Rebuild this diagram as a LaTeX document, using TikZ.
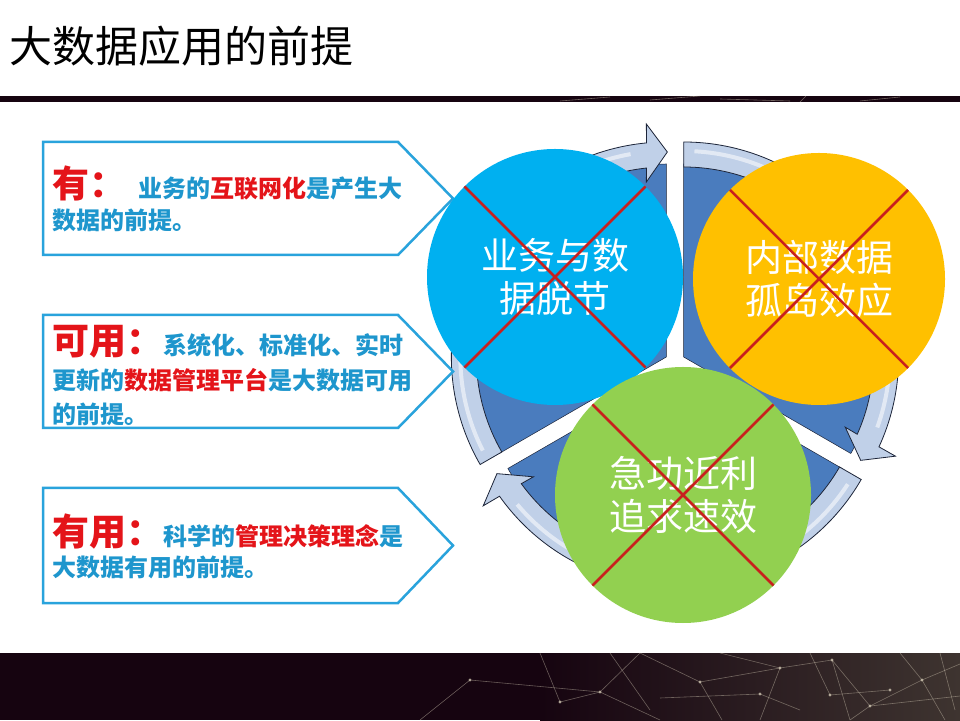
\documentclass[tikz,border=0pt]{standalone}
\usepackage{fontspec}
\newfontfamily\cjk{Noto Sans CJK SC}
\definecolor{boxblue}{RGB}{41,163,220}
\definecolor{txtblue}{RGB}{30,150,205}
\definecolor{txtred}{RGB}{228,20,25}
\definecolor{cblue}{RGB}{0,176,240}
\definecolor{corange}{RGB}{255,192,0}
\definecolor{cgreen}{RGB}{146,208,80}
\definecolor{xred}{RGB}{200,32,30}
\definecolor{wedgecol}{RGB}{74,124,190}
\definecolor{bandcol}{RGB}{192,208,232}
\definecolor{bandedge}{RGB}{28,36,56}
\definecolor{darkbar}{RGB}{22,4,16}
\definecolor{netcol}{RGB}{205,195,175}
\newcommand\redt[1]{\textcolor{txtred}{#1}}
\tikzset{
  boxline/.style={draw=boxblue, line width=2.5, line join=miter},
  bigred/.style={anchor=base west, inner sep=0, text=txtred, font=\cjk\bfseries\fontsize{37}{37}\selectfont},
  smalltxt/.style={anchor=base west, inner sep=0, text=txtblue, font=\cjk\bfseries\fontsize{24}{24}\selectfont},
  circ/.style={circle, inner sep=0, outer sep=0, text=white, align=center, font=\cjk\fontsize{37}{43}\selectfont},
  xline/.style={draw=xred, line width=2.5},
  wedgefill/.style={fill=wedgecol, draw=bandedge, line width=0.5},
  arrowband/.style={fill=bandcol, draw=bandedge, line width=0.8, line join=miter},
  gloss/.style={draw=white, opacity=0.55, line width=4},
  netline/.style={draw=netcol, opacity=0.45, line width=0.6},
  netdot/.style={fill=netcol, opacity=0.8},
}
\begin{document}
\begin{tikzpicture}[x=1pt,y=1pt]
\useasboundingbox (0,0) rectangle (960,720);
\fill[white] (0,0) rectangle (960,720);

% title and top bar
\node[anchor=base west, inner sep=0, font=\cjk\fontsize{43}{43}\selectfont] (title) at (9,657) {大数据应用的前提};
\fill[darkbar] (0,618) rectangle (960,624);
\begin{scope}[netline, opacity=0.5]
  \draw (560,619) -- (610,623);
  \draw (650,620) -- (700,624);
  \draw (720,621) -- (790,619);
  \draw (800,618) -- (806,624);
  \draw (860,619) -- (900,623);
\end{scope}

% bottom band
\fill[darkbar] (0,0) rectangle (960,67);
\shade[left color=darkbar, right color={rgb,255:red,62;green,52;blue,48}] (540,0) rectangle (960,67);
\begin{scope}
  \draw[netline] (420,0) -- (470,40) -- (600,28) -- (640,67);
  \draw[netline] (540,67) -- (560,18) -- (600,28) -- (660,0);
  \draw[netline] (640,67) -- (700,38) -- (722,0);
  \draw[netline] (700,38) -- (780,52) -- (760,0);
  \draw[netline] (720,67) -- (780,52) -- (832,60) -- (870,14) -- (850,0);
  \draw[netline] (832,60) -- (850,0);
  \draw[netline] (870,14) -- (922,40) -- (960,56);
  \draw[netline] (900,67) -- (922,40) -- (945,0);
  \draw[netline] (870,14) -- (960,24);
  \draw[netline] (660,22) -- (760,26) -- (800,10);
  \draw[netline] (940,67) -- (955,10);
  \draw[netline] (610,67) -- (650,10);
  \draw[netline] (810,67) -- (830,25) -- (890,30);
  \foreach \p in {(470,40),(600,28),(700,38),(780,52),(832,60),(870,14),(922,40),(760,26),(830,25),(560,18),(890,30)}
    \fill[netdot] \p circle (1.6);
\end{scope}

% cycle: wedges
\begin{scope}[shift={(666.34,363)}]
  \draw[wedgefill] (0,0) -- (210:193) arc[start angle=210,end angle=90,radius=193] -- cycle;
\end{scope}
\begin{scope}[shift={(683.66,363)}, rotate=-120]
  \draw[wedgefill] (0,0) -- (210:193) arc[start angle=210,end angle=90,radius=193] -- cycle;
\end{scope}
\begin{scope}[shift={(675,348)}, rotate=120]
  \draw[wedgefill] (0,0) -- (210:193) arc[start angle=210,end angle=90,radius=193] -- cycle;
\end{scope}
% cycle: arrow bands
\foreach \sx/\sy/\rot in {666.34/363/0, 683.66/363/-120, 675/348/120}{
  \begin{scope}[shift={(\sx,\sy)}, rotate=\rot]
    \draw[arrowband] (210:215) arc[start angle=210,end angle=95.3,radius=215]
      -- (-20,233) -- (1,205) -- (-20,175) -- (96:190)
      arc[start angle=96,end angle=210,radius=190] -- cycle;
    \draw[gloss] (207:206) arc[start angle=207,end angle=100,radius=206];
  \end{scope}
}

% left callout boxes
\draw[boxline] (43,578) -- (398,578) -- (453,521.5) -- (398,465) -- (43,465) -- cycle;
\draw[boxline] (43,405) -- (398,405) -- (453,348.5) -- (398,292) -- (43,292) -- cycle;
\draw[boxline] (43,232) -- (398,232) -- (453,174.5) -- (398,117) -- (43,117) -- cycle;

\node[bigred] (t1a) at (52,522) {有：};
\node[smalltxt] (t1b) at (138,522) {业务的\redt{互联网化}是产生大};
\node[smalltxt] (t1c) at (52,490) {数据的前提。};

\node[bigred] (t2a) at (52,365) {可用：};
\node[smalltxt] (t2b) at (163,365) {系统化、标准化、实时};
\node[smalltxt] (t2c) at (52,330) {更新的\redt{数据管理平台}是大数据可用};
\node[smalltxt] (t2d) at (52,296) {的前提。};

\node[bigred] (t3a) at (52,174) {有用：};
\node[smalltxt] (t3b) at (163,174) {科学的\redt{管理决策理念}是};
\node[smalltxt] (t3c) at (52,144) {大数据有用的前提。};

% circles
\node[circ, fill=cblue, minimum size=256] (c1) at (555,443) {业务与数\\据脱节};
\node[circ, fill=corange, minimum size=252] (c2) at (819,441) {内部数据\\孤岛效应};
\node[circ, fill=cgreen, minimum size=256] (c3) at (683,225) {急功近利\\追求速效};

\foreach \c in {c1,c2,c3}{
  \draw[xline] (\c.north west) -- (\c.south east);
  \draw[xline] (\c.north east) -- (\c.south west);
}
\end{tikzpicture}
\end{document}
